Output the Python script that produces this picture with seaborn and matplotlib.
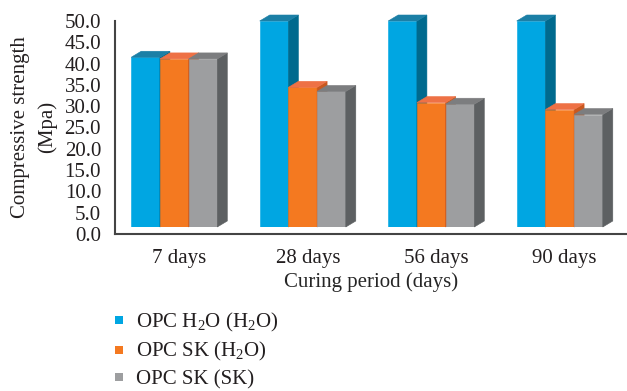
import numpy as np
import pandas as pd
import seaborn as sns
import matplotlib
matplotlib.use("Agg")
import matplotlib.pyplot as plt
from matplotlib.patches import Polygon
from matplotlib.lines import Line2D

# --- data -------------------------------------------------------------
periods = ["7 days", "28 days", "56 days", "90 days"]
series = ["OPC H$_2$O (H$_2$O)", "OPC SK (H$_2$O)", "OPC SK (SK)"]
opc_h2o_h2o = [41.2, 50.0, 50.0, 50.0]
opc_sk_h2o = [40.8, 33.9, 30.2, 28.5]
opc_sk_sk = [40.8, 32.9, 29.8, 27.3]
y_ticks = np.arange(0, 50.1, 5)

# face colours: front, top, side
front_cols = ["#00A6E2", "#F47920", "#9D9EA0"]
top_cols = ["#1B7FA6", "#EE7145", "#7C7D7F"]
side_cols = ["#006A8E", "#C9581F", "#5D6062"]

df = pd.DataFrame({
    "period": periods * 3,
    "series": [s for s in series for _ in periods],
    "strength": opc_h2o_h2o + opc_sk_h2o + opc_sk_sk,
})

sns.set_theme(style="white")
plt.rcParams["font.family"] = ["Liberation Serif", "DejaVu Serif"]
plt.rcParams["mathtext.fontset"] = "custom"
plt.rcParams["mathtext.rm"] = "Liberation Serif"
plt.rcParams["mathtext.it"] = "Liberation Serif:italic"
plt.rcParams["text.color"] = "#231F20"

FS = 15
W, H = 627, 391
fig = plt.figure(figsize=(W / 100, H / 100), dpi=100)


def rect(l, t, r, b):
    return [l / W, 1 - b / H, (r - l) / W, (b - t) / H]


cat_px = 128.5
xmax = -0.5 + (627 - 115) / cat_px

# axis frame with the value scale (back wall)
ax_t = fig.add_axes(rect(115, 21, 627, 234))
# bars (front faces sit slightly above the floor line)
ax_b = fig.add_axes(rect(115, 21, 627, 227))

sns.barplot(data=df, x="period", y="strength", hue="series",
            palette=front_cols, saturation=1, width=0.67, dodge=True,
            legend=False, ax=ax_b)
ax_b.set_xlim(-0.5, xmax)
ax_b.set_ylim(0, 50)
ax_b.axis("off")

# 3-D depth of each column, in data units
dx = 10 / cat_px
dy = 6 / ((227 - 21) / 50)

for hi, cont in enumerate(ax_b.containers):
    for bar in cont:
        bar.set_edgecolor(front_cols[hi])
        bar.set_linewidth(0.4)
        bar.set_x(bar.get_x() - dx / 2)
        x0 = bar.get_x()
        x1 = x0 + bar.get_width()
        h = bar.get_height()
        z = 2 + hi * 0.1
        bar.set_zorder(z)
        side = Polygon([(x1, 0), (x1 + dx, dy), (x1 + dx, h + dy), (x1, h)],
                       closed=True, facecolor=side_cols[hi],
                       edgecolor=side_cols[hi], lw=0.4,
                       zorder=z + 0.03, clip_on=False)
        top = Polygon([(x0, h), (x1, h), (x1 + dx, h + dy), (x0 + dx, h + dy)],
                      closed=True, facecolor=top_cols[hi],
                      edgecolor=top_cols[hi], lw=0.4,
                      zorder=z + 0.05, clip_on=False)
        ax_b.add_patch(side)
        ax_b.add_patch(top)

ax_t.set_facecolor("none")
ax_t.set_xlim(-0.5, xmax)
ax_t.set_ylim(0, 50)
ax_t.set_yticks(y_ticks)
ax_t.set_yticklabels([f"{v:.1f}" for v in y_ticks], fontsize=FS)
ax_t.set_xticks(range(len(periods)))
ax_t.set_xticklabels(periods, fontsize=FS)
ax_t.set_xticks([0.5, 1.5, 2.5], minor=True)
ax_t.tick_params(axis="x", which="major", length=0, pad=11, colors="#231F20")
ax_t.tick_params(axis="x", which="minor", length=4, width=1.2,
                 direction="out", color="#444444")
ax_t.tick_params(axis="y", length=3, width=1.2, direction="out",
                 pad=7, color="#444444", labelcolor="#231F20")
for s in ["top", "right"]:
    ax_t.spines[s].set_visible(False)
for s in ["left", "bottom"]:
    ax_t.spines[s].set_color("#444444")
    ax_t.spines[s].set_linewidth(1.5)
ax_t.set_xlabel("Curing period (days)", fontsize=FS, labelpad=3)
ax_t.set_ylabel("")

fig.text(34 / W, 1 - 127 / H, "Compressive strength\n(Mpa)", rotation=90,
         ha="center", va="center", multialignment="center", fontsize=FS,
         linespacing=1.5)

handles = [Line2D([], [], marker="s", ls="", markersize=5.5,
                  markerfacecolor=c, markeredgewidth=0) for c in front_cols]
fig.legend(handles, series, loc="upper left",
           bbox_to_anchor=(112 / W, 1 - 311 / H), frameon=False,
           fontsize=FS, handlelength=0.7, handletextpad=0.45,
           labelspacing=0.3, borderpad=0, borderaxespad=0)

fig.savefig("out.png", dpi=100)
